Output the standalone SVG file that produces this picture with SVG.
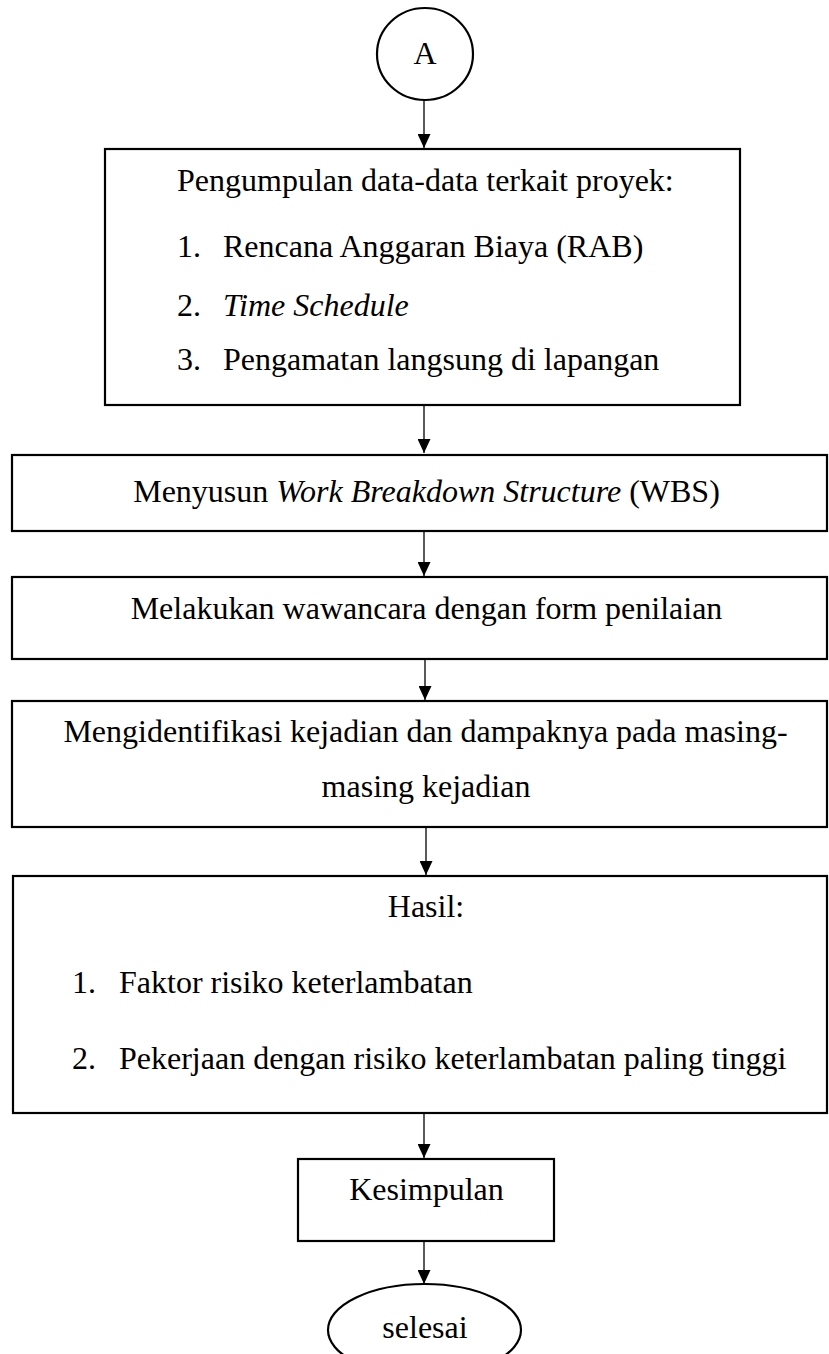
<svg xmlns="http://www.w3.org/2000/svg" width="829" height="1354" viewBox="0 0 829 1354">
<style>
.box{fill:#fff;stroke:#000;stroke-width:2.2}
.conn{stroke:#000;stroke-width:1.3;fill:none;marker-end:url(#ah)}
text{font-family:"Liberation Serif","Times New Roman",serif;font-size:32px;fill:#000}
.c{text-anchor:middle}
.i{font-style:italic}
</style>
<defs>
<marker id="ah" viewBox="0 0 14 13" refX="14" refY="6.5" markerWidth="14" markerHeight="13" markerUnits="userSpaceOnUse" orient="auto">
<path d="M0,0 L14,6.5 L0,13 Z" fill="#000"/>
</marker>
</defs>
<rect width="829" height="1354" fill="#fff"/>
<g id="connectors">
<line class="conn" x1="424" y1="100" x2="424" y2="148"/>
<line class="conn" x1="424" y1="406" x2="424" y2="453"/>
<line class="conn" x1="424" y1="532" x2="424" y2="576"/>
<line class="conn" x1="425" y1="660" x2="425" y2="700"/>
<line class="conn" x1="426" y1="828" x2="426" y2="875"/>
<line class="conn" x1="424" y1="1114" x2="424" y2="1158"/>
<line class="conn" x1="424" y1="1242" x2="424" y2="1284"/>
</g>
<g id="node-A">
<ellipse class="box" cx="425" cy="54" rx="48" ry="46"/>
<text class="c" x="425" y="64">A</text>
</g>
<g id="node-pengumpulan">
<rect class="box" x="105" y="149" width="635" height="256"/>
<text x="177" y="191">Pengumpulan data-data terkait proyek:</text>
<text x="177" y="257">1.</text><text x="223" y="257">Rencana Anggaran Biaya (RAB)</text>
<text x="177" y="316">2.</text><text x="223" y="316" class="i">Time Schedule</text>
<text x="177" y="370">3.</text><text x="223" y="370">Pengamatan langsung di lapangan</text>
</g>
<g id="node-wbs">
<rect class="box" x="12" y="455" width="815" height="76"/>
<text class="c" x="426.5" y="502">Menyusun <tspan class="i">Work Breakdown Structure</tspan> (WBS)</text>
</g>
<g id="node-wawancara">
<rect class="box" x="12" y="577" width="815" height="82"/>
<text class="c" x="426.5" y="619">Melakukan wawancara dengan form penilaian</text>
</g>
<g id="node-identifikasi">
<rect class="box" x="12" y="701" width="815" height="126"/>
<text class="c" x="425.5" y="742">Mengidentifikasi kejadian dan dampaknya pada masing-</text>
<text class="c" x="426" y="797">masing kejadian</text>
</g>
<g id="node-hasil">
<rect class="box" x="13" y="876" width="814" height="237"/>
<text class="c" x="426" y="917">Hasil:</text>
<text x="72" y="993">1.</text><text x="119" y="993">Faktor risiko keterlambatan</text>
<text x="72" y="1069">2.</text><text x="119" y="1069">Pekerjaan dengan risiko keterlambatan paling tinggi</text>
</g>
<g id="node-kesimpulan">
<rect class="box" x="298" y="1159" width="256" height="82"/>
<text class="c" x="426.5" y="1200">Kesimpulan</text>
</g>
<g id="node-selesai">
<ellipse class="box" cx="424.5" cy="1330" rx="96.5" ry="46"/>
<text class="c" x="425" y="1338">selesai</text>
</g>
</svg>
